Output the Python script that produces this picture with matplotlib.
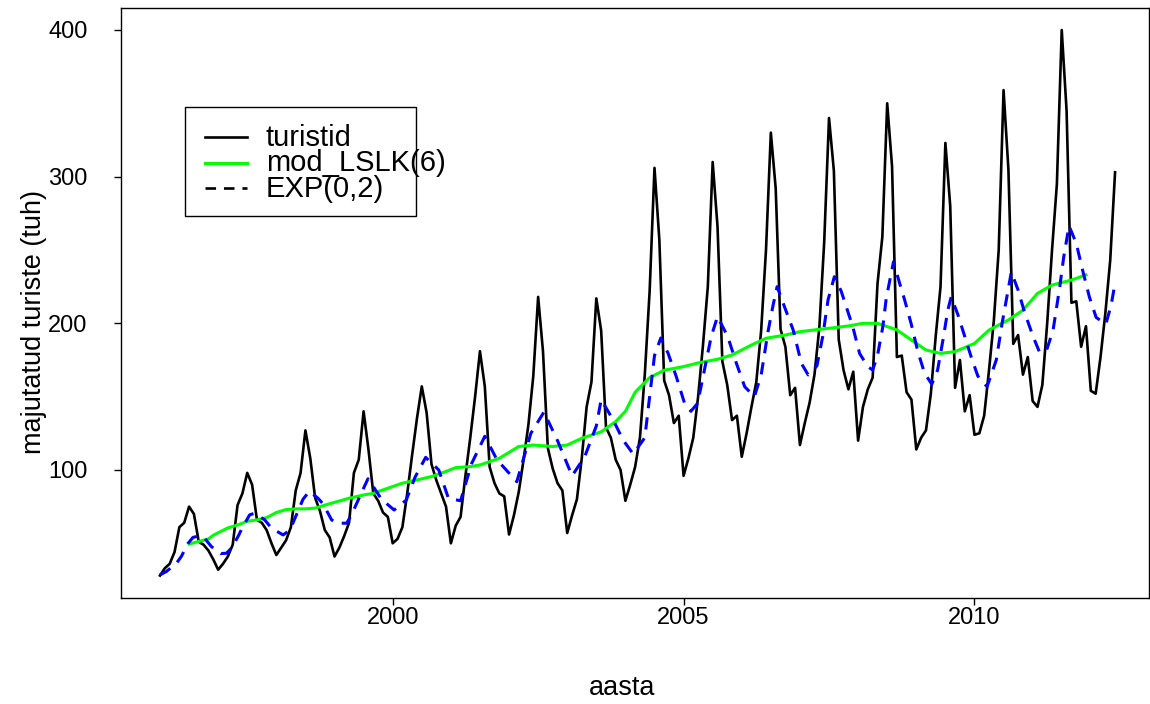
import numpy as np
import matplotlib.pyplot as plt
from matplotlib.lines import Line2D
from matplotlib.patches import Rectangle

plt.rcParams['font.family'] = ['Liberation Sans', 'DejaVu Sans']

# majutatud turistid (tuh), kuised andmed 1996-01 ... 2012-06
start_year = 1996
turistid = [
    28, 33, 36, 44, 61, 64, 75, 70, 51, 49, 45, 39,          # 1996
    32, 36, 41, 49, 76, 84, 98, 90, 66, 64, 59, 50,          # 1997
    42, 47, 52, 61, 86, 98, 127, 108, 81, 72, 59, 54,        # 1998
    41, 47, 55, 64, 98, 107, 140, 114, 84, 79, 71, 68,       # 1999
    50, 53, 61, 84, 110, 135, 157, 139, 104, 93, 84, 75,     # 2000
    50, 62, 68, 96, 122, 150, 181, 157, 102, 91, 84, 82,     # 2001
    56, 69, 85, 107, 131, 164, 218, 181, 115, 101, 91, 86,   # 2002
    57, 69, 80, 108, 143, 160, 217, 195, 129, 122, 107, 100, # 2003
    79, 90, 102, 122, 165, 222, 306, 257, 161, 151, 132, 137,  # 2004
    96, 108, 122, 150, 185, 225, 310, 266, 174, 158, 134, 137, # 2005
    109, 125, 143, 160, 195, 250, 330, 292, 196, 184, 151, 156,  # 2006
    117, 132, 146, 165, 197, 255, 340, 304, 189, 168, 155, 167,  # 2007
    120, 143, 155, 163, 227, 259, 350, 307, 177, 178, 153, 148,  # 2008
    114, 122, 127, 152, 191, 225, 323, 280, 156, 175, 140, 151,  # 2009
    124, 125, 137, 168, 202, 250, 359, 305, 186, 192, 165, 177,  # 2010
    147, 143, 158, 200, 250, 295, 400, 345, 214, 215, 184, 198,  # 2011
    154, 152, 177, 207, 243, 303,                                # 2012
]

# mod_LSLK(6): kuu number alates 1996-01 ja vaartus
lslk_month = [6, 10, 11, 14, 16, 18, 20, 22, 24, 26, 28, 30, 32, 35, 39, 42,
              44, 46, 50, 53, 56, 59, 61, 64, 66, 70, 74, 77, 81, 84, 87, 91,
              94, 96, 98, 101, 104, 108, 111, 115, 118, 122, 125, 129, 132,
              135, 139, 142, 145, 148, 152, 155, 158, 161, 164, 168, 171,
              175, 178, 181, 184, 188, 191]
lslk_values = [49.5, 53, 55.5, 60.5, 62.5, 65, 66, 67.5, 71, 73, 73.5, 73.5,
               74, 77, 80.7, 83, 84, 86.4, 91, 93.2, 95.5, 99, 101.6, 102.3,
               103.4, 108, 116, 117, 116, 117, 121.6, 126, 133, 140, 153, 163,
               168, 170.5, 173, 175.5, 178.4, 185.2, 189.8, 192, 194.3, 195.5,
               197, 198.2, 200, 200, 195.5, 188.6, 181.8, 179.5, 180.7, 186.3,
               195.4, 202.3, 209, 220.4, 226.1, 229.5, 233]

# EXP(0,2) silumine
exp_month = [0, 1.3, 3.4, 4.4, 5.8, 6.8, 8, 9.2, 10.6, 12.5, 13.7, 14.7, 16.1,
             17.1, 18.5, 19.5, 21.6, 23, 25.4, 26.8, 27.7, 29.5, 30.8, 32.6,
             33.6, 35.4, 36.4, 38.5, 39.5, 41.5, 42.9, 44, 45.7, 48.3, 50.8,
             52.6, 54.8, 57.5, 59.5, 62, 64.3, 67, 69.5, 73.6, 76.5, 79.2, 82,
             85, 87.6, 90, 91, 93.5, 95.5, 97.6, 100, 101, 102, 103.3, 104.8,
             106.5, 108.2, 109.5, 110.9, 112.3, 113.7, 115, 117.1, 118.9,
             120.6, 122.6, 124, 125.4, 126.4, 127.3, 128.8, 130.6, 132.3,
             133.7, 135.5, 136.7, 137.8, 139.1, 140.5, 142.9, 144.3, 146, 147,
             148, 149.1, 149.8, 151.3, 152.5, 153.6, 155, 156.3, 157.7, 159.2,
             160.4, 161.5, 162.5, 163.2, 164.6, 166, 167.3, 168.7, 170.6,
             172.5, 173.7, 174.9, 175.6, 177, 178.3, 180.1, 181.4, 182.8,
             184.2, 185.6, 186.4, 187.5, 189, 190.3, 191.7, 193.1, 195.1,
             196.2, 197]
exp_values = [28.5, 30.7, 36.4, 41, 50, 54, 55, 53.5, 47.8, 43, 43.2, 46.6,
              54.6, 61.4, 69.4, 70.5, 66, 60.3, 55.7, 59, 66, 80, 85.5, 80.7,
              77, 66, 63.7, 63.7, 69.4, 84, 94, 88.6, 80, 72.7, 79.5, 95,
              108.6, 100, 80.7, 79, 104.5, 123, 107, 92, 125, 139.5, 120, 96,
              109, 130, 148, 134, 120.5, 110.9, 122, 150, 178, 190, 179.6,
              163.6, 145.5, 140, 145.5, 168.2, 191, 204.6, 191, 172.7, 156.8,
              150, 164.7, 194, 211.4, 225, 211.4, 195.5, 172.7, 164.8, 171,
              191, 216, 231.8, 222, 197.7, 179.5, 170.4, 168.2, 178, 197.7,
              217, 242, 228, 215.9, 199, 181, 166, 158.5, 168.2, 188.6, 209,
              218, 205.7, 191, 177.3, 164, 156.8, 175, 200, 222, 235, 222.7,
              207.8, 190.9, 180.5, 181, 195, 225, 245, 266.5, 254.5, 236.3,
              218, 204, 199.5, 212.5, 227.5]

labels = ['turistid', 'mod_LSLK(6)', 'EXP(0,2)']

aasta = start_year + np.arange(len(turistid)) / 12
lslk_t = start_year + np.array(lslk_month) / 12
exp_t = start_year + np.array(exp_month) / 12

fig = plt.figure(figsize=(11.5, 7.04), dpi=100)
ax = fig.add_axes([121 / 1150, 1 - 598 / 704, 1028 / 1150, 590 / 704])

ax.plot(aasta, turistid, color='black', lw=1.9)
ax.plot(lslk_t, lslk_values, color='#00ff00', lw=2.2)
ax.plot(exp_t, exp_values, color='#0000ff', lw=2.2, ls=(0, (4, 3)))

ax.set_xlim(1995.33, 2013.0)
ax.set_ylim(12.7, 415)
ax.set_xticks([2000, 2005, 2010])
ax.set_yticks([100, 200, 300, 400])
ax.tick_params(direction='out', length=5, width=1, labelsize=17,
               colors='black')
ax.tick_params(axis='y', pad=19)
ax.tick_params(axis='x', pad=1.5)
for sp in ax.spines.values():
    sp.set_linewidth(1)

ax.set_xlabel('aasta', fontsize=19.5)
ax.set_ylabel('majutatud turiste (tuh)', fontsize=19.5)
ax.xaxis.set_label_coords(0.487, -0.13)
ax.yaxis.set_label_coords(-0.072, 0.468)

# legend drawn by hand (frame is narrower than the longest label, like R's)
ax.add_patch(Rectangle((0.0623, 0.6475), 0.2247, 0.1845, transform=ax.transAxes,
                       fill=False, edgecolor='black', lw=1, zorder=5))
leg_styles = [dict(color='black', lw=1.9),
              dict(color='#00ff00', lw=2.2),
              dict(color='black', lw=1.9, ls=(0, (4, 3)))]
for k, (lab, st) in enumerate(zip(labels, leg_styles)):
    base = 0.7666 - k * 0.0435
    ax.add_line(Line2D([0.0817, 0.1226], [base + 0.015] * 2,
                       transform=ax.transAxes, zorder=6, **st))
    ax.text(0.141, base, lab, transform=ax.transAxes, fontsize=21,
            va='baseline', ha='left', zorder=6)

fig.savefig('out.png', dpi=100)
